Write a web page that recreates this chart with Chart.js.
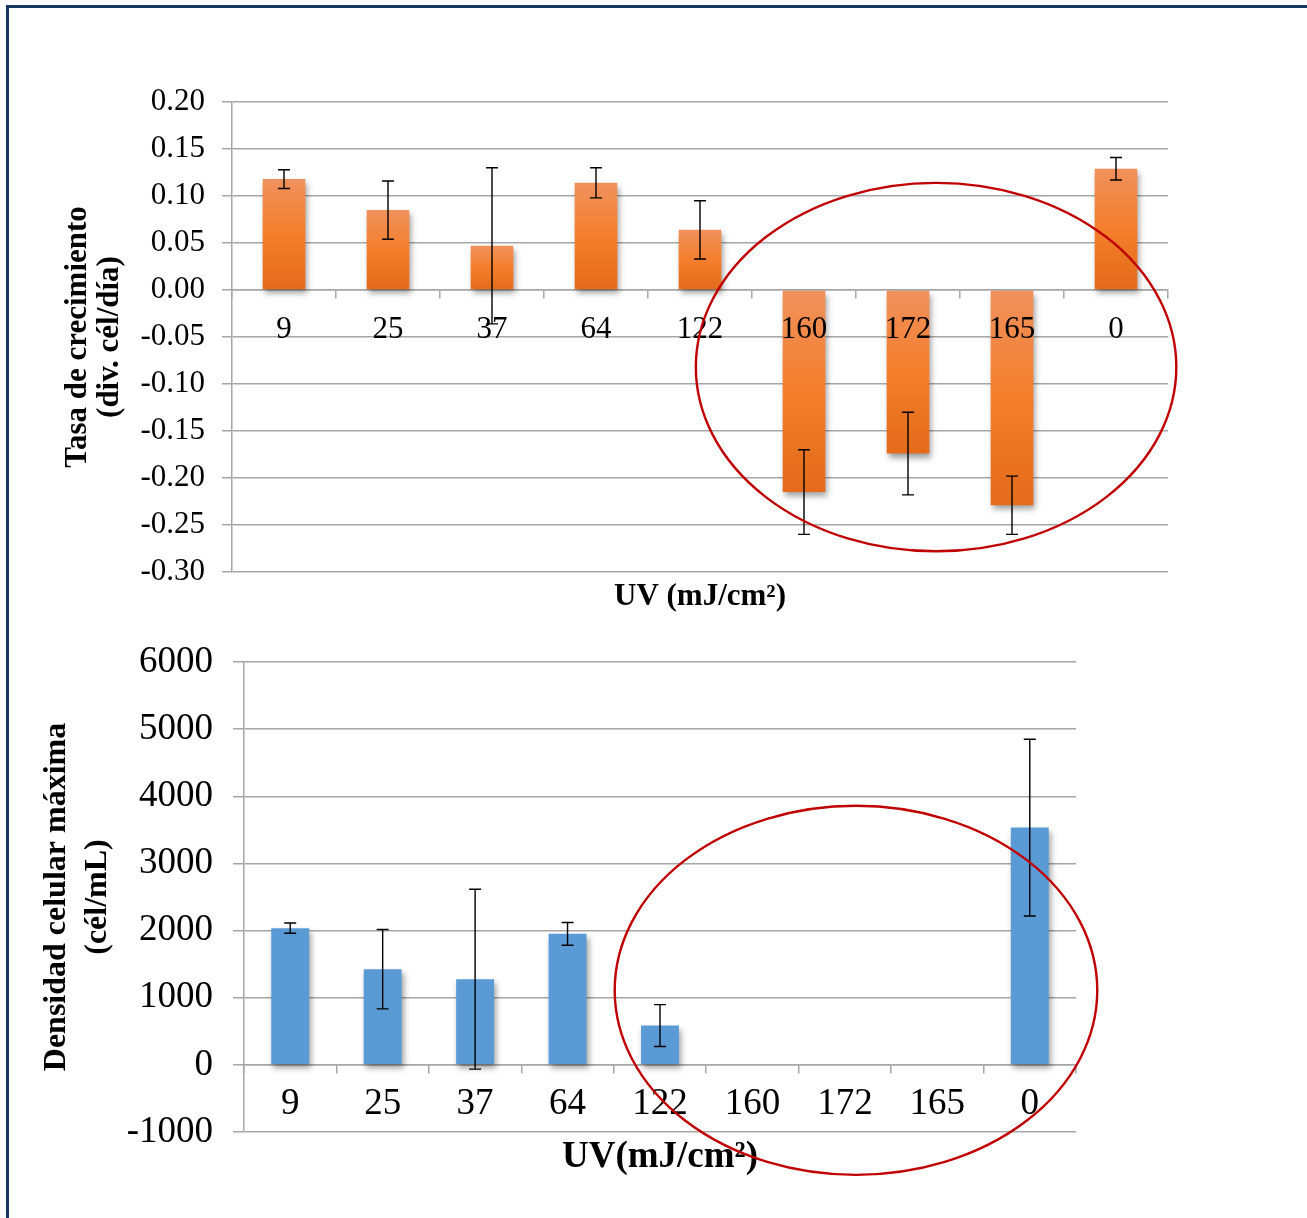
<!DOCTYPE html>
<html>
<head>
<meta charset="utf-8">
<script src="https://cdn.jsdelivr.net/npm/chart.js@4.4.1/dist/chart.umd.min.js"></script>
<style>
  html, body { margin: 0; padding: 0; background: #fff; }
  #page { position: relative; width: 1307px; height: 1218px; overflow: hidden; background: #fff; }
  #frame { position: absolute; left: 6px; top: 5px; right: -10px; bottom: -10px;
           border-top: 3px solid #17375e; border-left: 3px solid #17375e; pointer-events: none; }
  #growth { position: absolute; left: 0; top: 0; }
  #density { position: absolute; left: 0; top: 600px; }
</style>
</head>
<body>
<div id="page">
  <canvas id="growth" width="1307" height="628" style="width:1307px;height:628px"></canvas>
  <canvas id="density" width="1307" height="618" style="width:1307px;height:618px"></canvas>
  <div id="frame"></div>
</div>
<script>
// UV doses (mJ/cm²), one bar per treatment
const doses = ['9', '25', '37', '64', '122', '160', '172', '165', '0'];

// Growth rate (div. cél/día) and its error
const growthRate    = [0.118, 0.085, 0.047, 0.114, 0.064, -0.215, -0.174, -0.229, 0.129];
const growthRateErr = [0.010, 0.031, 0.083, 0.016, 0.031, 0.045, 0.044, 0.031, 0.012];
const growthTicks   = [-0.30, -0.25, -0.20, -0.15, -0.10, -0.05, 0.00, 0.05, 0.10, 0.15, 0.20];

// Maximum cell density (cél/mL) and its error
const maxDensity    = [2036, 1425, 1276, 1951, 585, 0, 0, 0, 3534];
const maxDensityErr = [77, 591, 1340, 170, 312, 0, 0, 0, 1316];
const densityTicks  = [-1000, 0, 1000, 2000, 3000, 4000, 5000, 6000];

// Highlighted region: centre (category index, value) and radii (categories, value units)
const growthHighlight  = { cx: 6.27, cy: -0.082, rx: 2.31, ry: 0.196 };
const densityHighlight = { cx: 6.12, cy: 1110, rx: 2.61, ry: 2748 };

const SERIF = "'Liberation Serif', 'Times New Roman', Times, serif";
const GRID = '#a6a6a6';
Chart.defaults.font.family = SERIF;
Chart.defaults.color = '#000';

// soft drop shadow under the bars
const barShadow = {
  id: 'barShadow',
  beforeDatasetDraw(chart) {
    const ctx = chart.ctx;
    ctx.save();
    ctx.shadowColor = 'rgba(0,0,0,0.38)';
    ctx.shadowBlur = 6;
    ctx.shadowOffsetX = 2;
    ctx.shadowOffsetY = 4;
  },
  afterDatasetDraw(chart) { chart.ctx.restore(); }
};

// symmetric error bars with caps
const errorBars = {
  id: 'errorBars',
  afterDatasetsDraw(chart, args, opts) {
    const { ctx } = chart;
    const y = chart.scales.y;
    const meta = chart.getDatasetMeta(0);
    const values = chart.data.datasets[0].data;
    ctx.save();
    ctx.strokeStyle = '#000';
    ctx.lineWidth = 1.4;
    opts.errors.forEach((e, i) => {
      if (!e) return;
      const px = meta.data[i].x;
      const y1 = y.getPixelForValue(values[i] + e);
      const y2 = y.getPixelForValue(values[i] - e);
      ctx.beginPath();
      ctx.moveTo(px, y1); ctx.lineTo(px, y2);
      ctx.moveTo(px - opts.cap, y1); ctx.lineTo(px + opts.cap, y1);
      ctx.moveTo(px - opts.cap, y2); ctx.lineTo(px + opts.cap, y2);
      ctx.stroke();
    });
    ctx.restore();
  }
};

// red ellipse around the highest doses
const highlight = {
  id: 'highlight',
  afterDraw(chart, args, opts) {
    const { ctx } = chart;
    const x = chart.scales.x, y = chart.scales.y;
    const step = x.getPixelForValue(1) - x.getPixelForValue(0);
    const cx = x.getPixelForValue(opts.cx);
    const cy = y.getPixelForValue(opts.cy);
    const rx = opts.rx * step;
    const ry = Math.abs(y.getPixelForValue(opts.cy + opts.ry) - cy);
    ctx.save();
    ctx.strokeStyle = '#c00000';
    ctx.lineWidth = 2.4;
    ctx.beginPath();
    ctx.ellipse(cx, cy, rx, ry, 0, 0, Math.PI * 2);
    ctx.stroke();
    ctx.restore();
  }
};

function orangeGradient(c) {
  const chart = c.chart;
  if (!chart.chartArea || c.type !== 'data') return '#f27d2c';
  const y = chart.scales.y;
  const a = y.getPixelForValue(0), b = y.getPixelForValue(c.raw);
  const top = Math.min(a, b), bot = Math.max(a, b);
  if (bot - top < 1) return '#f27d2c';
  const g = chart.ctx.createLinearGradient(0, top, 0, bot);
  g.addColorStop(0, '#f0915d');
  g.addColorStop(0.5, '#f47e2b');
  g.addColorStop(1, '#e36b1b');
  return g;
}

function makeChart(canvasId, cfg) {
  return new Chart(document.getElementById(canvasId), {
    type: 'bar',
    data: {
      labels: doses,
      datasets: [{
        data: cfg.values,
        xAxisID: 'x',
        yAxisID: 'y',
        backgroundColor: cfg.color,
        borderWidth: 0,
        barPercentage: 0.41,
        categoryPercentage: 1
      }]
    },
    options: {
      responsive: false,
      animation: false,
      layout: { padding: cfg.padding },
      plugins: {
        legend: { display: false },
        tooltip: { enabled: false },
        errorBars: { errors: cfg.errors, cap: 6 },
        highlight: cfg.highlight
      },
      scales: {
        x: {
          type: 'category',
          position: { y: 0 },
          grid: { drawOnChartArea: false, drawTicks: true, tickLength: 8, color: GRID, lineWidth: 1.5, offset: true },
          border: { display: true, color: GRID, width: 1.5 },
          ticks: { z: 1, font: { size: cfg.tickSize }, color: '#000', padding: cfg.xTickPad, autoSkip: false, maxRotation: 0 }
        },
        x2: {
          type: 'category',
          position: 'bottom',
          grid: { display: false },
          border: { display: false },
          ticks: { display: false },
          afterFit: s => { s.height = cfg.xTitleBox; },
          title: {
            display: true,
            text: cfg.xTitle,
            color: '#000',
            font: { size: cfg.xTitleSize, weight: 'bold', lineHeight: 1 },
            padding: { top: 0, bottom: cfg.xTitlePad }
          }
        },
        y: {
          min: cfg.ticks[0],
          max: cfg.ticks[cfg.ticks.length - 1],
          afterBuildTicks: s => { s.ticks = cfg.ticks.map(v => ({ value: v })); },
          afterFit: s => { s.width = cfg.yBox; },
          grid: { color: GRID, lineWidth: 1.5, tickLength: cfg.yTickLen },
          border: { color: GRID, width: 1.5 },
          ticks: { font: { size: cfg.tickSize }, color: '#000', padding: cfg.yTickPad, callback: cfg.format },
          title: {
            display: true,
            text: cfg.yTitle,
            color: '#000',
            font: { size: cfg.yTitleSize, weight: 'bold', lineHeight: cfg.yTitleLine },
            padding: { top: cfg.yTitlePad, bottom: 0 }
          }
        }
      }
    },
    plugins: [barShadow, errorBars, highlight]
  });
}

makeChart('growth', {
  values: growthRate,
  errors: growthRateErr,
  ticks: growthTicks,
  format: v => Number(v).toFixed(2),
  color: orangeGradient,
  highlight: growthHighlight,
  padding: { top: 102, right: 139, bottom: 0, left: 0 },
  tickSize: 31,
  xTickPad: 13,
  yTickLen: 10,
  yTickPad: 17,
  yBox: 232,
  yTitle: ['Tasa de crecimiento', '(div. cél/día)'],
  yTitleSize: 31,
  yTitleLine: 1.03,
  yTitlePad: 62,
  xTitle: 'UV (mJ/cm²)',
  xTitleSize: 31,
  xTitleBox: 56,
  xTitlePad: 15.5
});

makeChart('density', {
  values: maxDensity,
  errors: maxDensityErr,
  ticks: densityTicks,
  format: v => String(v),
  color: '#5b9bd5',
  highlight: densityHighlight,
  padding: { top: 62, right: 231, bottom: 0, left: 0 },
  tickSize: 37,
  xTickPad: 9,
  yTickLen: 11,
  yTickPad: 20,
  yBox: 244,
  yTitle: ['Densidad celular máxima', '(cél/mL)'],
  yTitleSize: 32,
  yTitleLine: 1.28,
  yTitlePad: 36,
  xTitle: 'UV(mJ/cm²)',
  xTitleSize: 37,
  xTitleBox: 86,
  xTitlePad: 42.5
});
</script>
</body>
</html>
